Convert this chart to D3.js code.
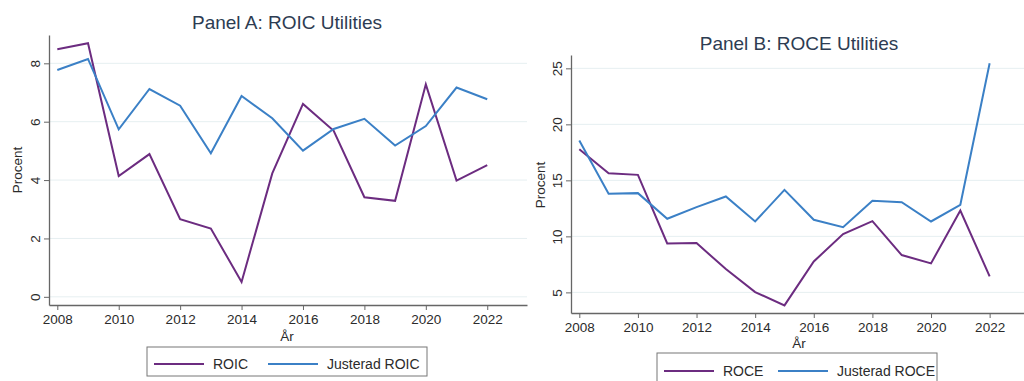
<!DOCTYPE html>
<html><head><meta charset="utf-8">
<script src="https://cdn.jsdelivr.net/npm/d3@7"></script>
<style>body{margin:0;background:#fff}svg{display:block;font-family:"Liberation Sans",Arial,sans-serif}</style>
</head><body><svg id="c" width="1024" height="381"></svg>
<script>
const years = [2008,2009,2010,2011,2012,2013,2014,2015,2016,2017,2018,2019,2020,2021,2022];
const xTicks = [2008,2010,2012,2014,2016,2018,2020,2022];
const roic = [8.48,8.69,4.14,4.89,2.66,2.34,0.51,4.23,6.61,5.69,3.41,3.29,7.28,3.98,4.51];
const roicAdj = [7.77,8.15,5.74,7.12,6.55,4.92,6.88,6.12,5.01,5.75,6.10,5.18,5.85,7.17,6.77];
const roce = [17.78,15.64,15.49,9.37,9.40,7.08,5.03,3.84,7.76,10.20,11.36,8.33,7.59,12.31,6.43];
const roceAdj = [18.55,13.80,13.86,11.57,12.61,13.56,11.33,14.15,11.48,10.82,13.17,13.05,11.33,12.82,25.45];
const yTicksA = [0,2,4,6,8];
const yTicksB = [5,10,15,20,25];
const titles = ["Panel A: ROIC Utilities","Panel B: ROCE Utilities"];
const seriesNamesA = ["ROIC","Justerad ROIC"];
const seriesNamesB = ["ROCE","Justerad ROCE"];
const colors = ["#6c2c80","#3b80c6"];

const svg = d3.select("#c");

function panel(o){
  const g = svg.append("g");
  const x = d3.scaleLinear().domain(o.xdom).range([o.left,o.right]);
  const y = d3.scaleLinear().domain(o.ydom).range([o.bottom,o.top]);
  g.append("g").selectAll("line").data(o.yTicks).join("line")
    .attr("x1",o.left).attr("x2",o.right)
    .attr("y1",d=>y(d)).attr("y2",d=>y(d))
    .attr("stroke","#e6eff1").attr("stroke-width",1);
  const ya = g.append("g").attr("transform",`translate(${o.left},0)`)
    .call(d3.axisLeft(y).tickValues(o.yTicks).tickSize(5).tickPadding(4).tickSizeOuter(0));
  ya.select(".domain").attr("stroke","#666").attr("stroke-width",1.3);
  ya.selectAll(".tick line").attr("stroke","#666");
  ya.selectAll(".tick text").attr("font-size",13.5).attr("fill","#2b2b2b")
    .attr("transform","translate(-9,0) rotate(-90)")
    .attr("text-anchor","middle").attr("x",0).attr("y",0).attr("dy",0);
  const xa = g.append("g").attr("transform",`translate(0,${o.bottom})`)
    .call(d3.axisBottom(x).tickValues(xTicks).tickFormat(d3.format("d")).tickSize(5).tickPadding(4).tickSizeOuter(0));
  xa.select(".domain").attr("stroke","#666").attr("stroke-width",1.3);
  xa.selectAll(".tick line").attr("stroke","#666");
  xa.selectAll(".tick text").attr("font-size",13.5).attr("fill","#2b2b2b");
  const line = d3.line().x((d,i)=>x(years[i])).y(d=>y(d));
  o.series.forEach((s,k)=>{
    g.append("path").datum(s).attr("d",line).attr("fill","none")
      .attr("stroke",colors[k]).attr("stroke-width",2).attr("stroke-linejoin","miter");
  });
  g.append("text").attr("x",o.titleX).attr("y",o.titleY).attr("text-anchor","middle")
    .attr("font-size",19).attr("fill","#2d3c52").text(o.title);
  g.append("text").attr("x",o.titleX).attr("y",o.xlabY).attr("text-anchor","middle")
    .attr("font-size",13.5).attr("fill","#2b2b2b").text("År");
  g.append("text").attr("transform",`translate(${o.ylabX},${o.ylabY}) rotate(-90)`)
    .attr("text-anchor","middle").attr("font-size",13.5).attr("fill","#2b2b2b").text("Procent");
  const lg = g.append("g");
  lg.append("rect").attr("x",o.lx).attr("y",o.ly).attr("width",o.lw).attr("height",o.lh)
    .attr("fill","#fff").attr("stroke","#777").attr("stroke-width",1);
  o.names.forEach((n,k)=>{
    const x0 = o.lx + (k===0?7:121);
    lg.append("line").attr("x1",x0).attr("x2",x0+50).attr("y1",o.lcy).attr("y2",o.lcy)
      .attr("stroke",colors[k]).attr("stroke-width",2);
    lg.append("text").attr("x",x0+59).attr("y",o.lcy).attr("dy","0.35em")
      .attr("font-size",14).attr("fill","#2b2b2b").text(n);
  });
}

panel({left:49,right:527,top:35,bottom:305,xdom:[2008-8.3/30.71,2008+(527-49-8.3)/30.71],
  ydom:[-0.28,8.97],yTicks:yTicksA,series:[roic,roicAdj],title:titles[0],
  titleX:287,titleY:29,xlabY:341,ylabX:22,ylabY:170,names:seriesNamesA,
  lx:147,ly:347,lw:280,lh:29,lcy:364});
panel({left:571,right:1030,top:55,bottom:313,xdom:[2008-8.3/29.31,2008+(1030-571-8.3)/29.31],
  ydom:[3.16,26.19],yTicks:yTicksB,series:[roce,roceAdj],title:titles[1],
  titleX:799,titleY:50,xlabY:348,ylabX:545,ylabY:185,names:seriesNamesB,
  lx:657,ly:353,lw:280,lh:32,lcy:371});
</script></body></html>
